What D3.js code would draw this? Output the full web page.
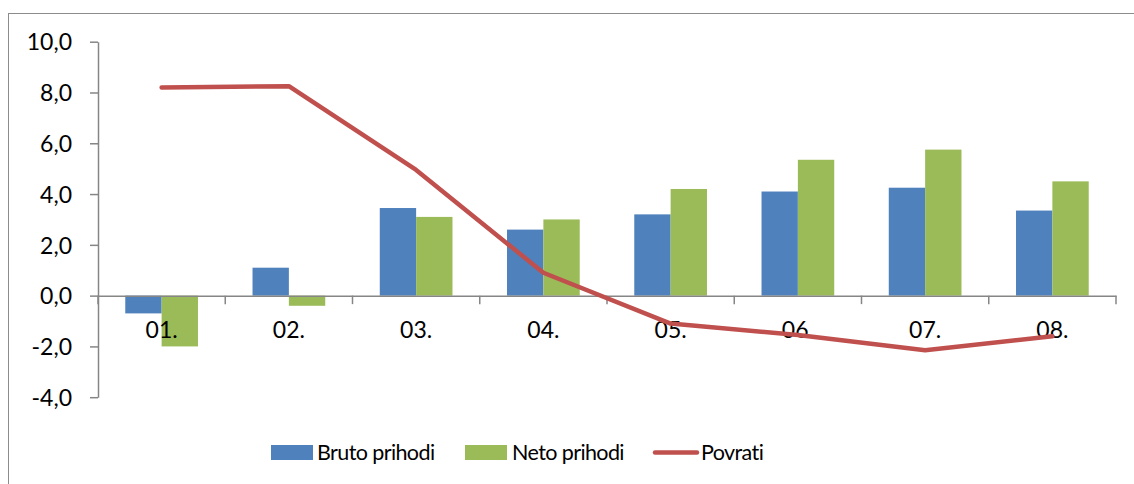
<!DOCTYPE html>
<html>
<head>
<meta charset="utf-8">
<script src="https://cdn.jsdelivr.net/npm/d3@7"></script>
<style>
  html, body { margin: 0; padding: 0; background: #fff; }
  svg { display: block; }
  text { font-family: Lato, "Open Sans", sans-serif; fill: #000; }
</style>
</head>
<body>
<svg id="chart" width="1134" height="484"></svg>
<script>
const categories = ["01.", "02.", "03.", "04.", "05.", "06.", "07.", "08."];
const brutoPrihodi = [-0.7, 1.1, 3.45, 2.6, 3.2, 4.1, 4.25, 3.35];
const netoPrihodi = [-2.0, -0.4, 3.1, 3.0, 4.2, 5.35, 5.75, 4.5];
const povrati = [8.2, 8.25, 4.95, 0.9, -1.1, -1.55, -2.15, -1.6];
const yTicks = [-4, -2, 0, 2, 4, 6, 8, 10];
const seriesNames = ["Bruto prihodi", "Neto prihodi", "Povrati"];
const colors = ["#4F81BD", "#9BBB59", "#C0504D"];

(function () {
const FONT = "Lato, 'Open Sans', sans-serif";
const svg = d3.select("#chart");
const mLeft = 98, mRight = 1116, mTop = 41.7, mBottom = 397.2;

// outer border
svg.append("rect").attr("x", 8.5).attr("y", 13.5).attr("width", 1140).attr("height", 480)
  .attr("fill", "none").attr("stroke", "#8c8c8c").attr("stroke-width", 1);

const x = d3.scaleBand().domain(categories).range([mLeft, mRight]).paddingInner(0).paddingOuter(0);
const y = d3.scaleLinear().domain([-4, 10]).range([mBottom, mTop]);
const bw = x.bandwidth() / 3.5;

// Bars
const series = [brutoPrihodi, netoPrihodi];
series.forEach((vals, si) => {
  svg.append("g").selectAll("rect").data(vals).join("rect")
    .attr("x", (d, i) => x(categories[i]) + x.bandwidth() / 2 - bw + si * bw)
    .attr("y", d => y(Math.max(0, d)))
    .attr("width", bw)
    .attr("height", d => Math.abs(y(d) - y(0)))
    .attr("fill", colors[si]);
});

// Y axis
const yAxis = d3.axisLeft(y).tickValues(yTicks).tickSize(8).tickSizeOuter(0)
  .tickFormat(d => d3.format(".1f")(d).replace(".", ",").replace("−", "-"));
const gy = svg.append("g").attr("transform", `translate(${mLeft},0)`).call(yAxis);
gy.select(".domain").attr("stroke", "#868686").attr("stroke-width", 1.5);
gy.selectAll(".tick line").attr("stroke", "#868686").attr("stroke-width", 1.5);
gy.selectAll(".tick text").attr("x", -26).attr("dy", "0.36em")
  .style("font-size", "23px").style("font-family", FONT).attr("fill", "#000");

// X axis (at zero)
const xAxis = d3.axisBottom(x).tickSize(0).tickSizeOuter(0);
const gx = svg.append("g").attr("transform", `translate(0,${y(0)})`).call(xAxis);
gx.select(".domain").attr("stroke", "#868686").attr("stroke-width", 1.5);
gx.selectAll(".tick text").attr("y", 42).attr("dy", 0)
  .style("font-size", "23px").style("font-family", FONT).attr("fill", "#000");
// category boundary ticks
const bounds = categories.map(c => x(c)).concat([x(categories[categories.length - 1]) + x.bandwidth()]);
svg.append("g").selectAll("line").data(bounds).join("line")
  .attr("x1", d => d).attr("x2", d => d)
  .attr("y1", y(0)).attr("y2", y(0) + 8.5)
  .attr("stroke", "#868686").attr("stroke-width", 1.5);

// Line
const line = d3.line().x((d, i) => x(categories[i]) + x.bandwidth() / 2).y(d => y(d));
svg.append("path").datum(povrati).attr("d", line)
  .attr("fill", "none").attr("stroke", colors[2]).attr("stroke-width", 4.5)
  .attr("stroke-linejoin", "round").attr("stroke-linecap", "round");

// Legend
const legend = svg.append("g");
const legendItems = [
  { name: seriesNames[0], sx: 271, tx: 317, type: "rect" },
  { name: seriesNames[1], sx: 465, tx: 512, type: "rect" },
  { name: seriesNames[2], sx: 655, tx: 701, type: "line" }
];
legendItems.forEach((it, i) => {
  if (it.type === "rect") {
    legend.append("rect").attr("x", it.sx).attr("y", 445).attr("width", 42).attr("height", 15)
      .attr("fill", colors[i]);
  } else {
    legend.append("line").attr("x1", it.sx).attr("x2", it.sx + 42).attr("y1", 452.5).attr("y2", 452.5)
      .attr("stroke", colors[i]).attr("stroke-width", 4.5).attr("stroke-linecap", "round");
  }
  legend.append("text").attr("x", it.tx).attr("y", 460).text(it.name)
    .style("font-size", "21.5px").style("letter-spacing", "-0.6px").style("font-family", FONT);
});
})();
</script>
</body>
</html>
